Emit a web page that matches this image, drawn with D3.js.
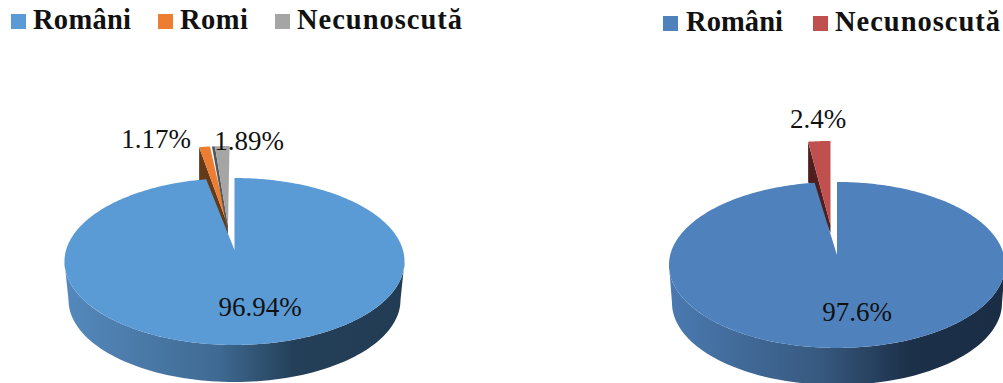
<!DOCTYPE html>
<html>
<head>
<meta charset="utf-8">
<script src="https://cdn.jsdelivr.net/npm/d3@7"></script>
<style>
html,body{margin:0;padding:0;background:#fff;overflow:hidden}
svg{display:block}
text{font-family:"Liberation Serif",serif;fill:#111}
</style>
</head>
<body>
<svg id="chart" width="1003" height="383"></svg>
<script>
// Ethnic structure of two localities, shown as tilted exploded pies
const leftCategories = ["Români", "Romi", "Necunoscută"];
const leftValues = [96.94, 1.17, 1.89];
const leftColors = ["#5B9BD5", "#ED7D31", "#A5A5A5"];
const leftDark = [null, "#653A19", "#56585A"];

const rightCategories = ["Români", "Necunoscută"];
const rightValues = [97.6, 2.4];
const rightColors = ["#4F81BD", "#C0504D"];
const rightDark = [null, "#4E1F1E"];

const svg = d3.select("#chart");
const defs = svg.append("defs");
const line = d3.line().curve(d3.curveLinear);
const rad = Math.PI / 180;

function drawPie(id, cfg, categories, values, colors, darks) {
  const g = svg.append("g");
  // Perspective projection of the unit disc onto the page
  const project = (theta, r = 1) => {
    const u = r * Math.sin(theta), v = r * Math.cos(theta);
    const w = 1 + cfg.persp * v;
    return [cfg.cx + cfg.radius * u / w, cfg.cy - cfg.foreshorten * v / w];
  };
  const rim = (a0, a1, n = 160) => d3.range(n + 1).map(i => project(a0 + (a1 - a0) * i / n));
  const arcs = d3.pie().sort(null).value(d => d)(values);

  // Side wall of the main slice, hung from the widest points of the projected rim
  const grad = defs.append("linearGradient").attr("id", id)
    .attr("gradientUnits", "userSpaceOnUse")
    .attr("x1", cfg.cx - cfg.lowRx).attr("x2", cfg.cx + cfg.lowRx)
    .attr("y1", 0).attr("y2", 0);
  cfg.wall.forEach(([o, c]) => grad.append("stop").attr("offset", o).attr("stop-color", c));

  const widest = Math.acos(-cfg.persp);
  const upper = rim(widest, 2 * Math.PI - widest);
  const lower = d3.range(0, 181, 2).map(deg => [
    cfg.cx - cfg.lowRx * Math.cos(deg * rad),
    cfg.lowCy + cfg.lowRy * Math.sin(deg * rad)
  ]);
  g.append("path").attr("d", line(upper.concat(lower)) + "Z").attr("fill", `url(#${id})`);

  // Pulled-out slices: side faces first so the main disc overlaps them
  arcs.slice(1).forEach((a, i) => {
    const k = i + 1;
    const off = cfg.offsets[k - 1];
    const tip = [cfg.cx + off.tip[0], cfg.cy + off.tip[1]];
    const edge = rim(a.startAngle, a.endAngle, 12).map(p => [p[0] + off.rim[0], p[1] + off.rim[1]]);
    const first = edge[0], last = edge[edge.length - 1];
    const outerEdge = first[0] < last[0] ? first : last;
    const face = [
      outerEdge,
      [outerEdge[0] + off.lip, outerEdge[1]],
      tip,
      [tip[0], tip[1] + cfg.tipDepth],
      [outerEdge[0], outerEdge[1] + off.rimDepth]
    ];
    g.append("path").attr("d", line(face) + "Z").attr("fill", darks[k]);
    g.append("path").attr("d", line([tip, ...edge.map(p => p[0] === outerEdge[0] ? [p[0] + off.lip, p[1]] : p)]) + "Z")
      .attr("fill", colors[k]);
  });

  // Top of the main slice
  const main = arcs[0];
  g.append("path")
    .attr("d", line([project(0, 0), ...rim(main.startAngle, main.endAngle, 360)]) + "Z")
    .attr("fill", colors[0]);

  // Value labels
  values.forEach((v, i) => {
    const lab = cfg.labels[i];
    g.append("text").attr("x", lab[0]).attr("y", lab[1])
      .attr("text-anchor", "middle").attr("font-size", cfg.labelSize)
      .text(v + "%");
  });

  // Legend
  categories.forEach((c, i) => {
    const [sx, tx, tw] = cfg.legend[i];
    g.append("rect").attr("x", sx).attr("y", cfg.legendY - 15)
      .attr("width", 15).attr("height", 15).attr("fill", colors[i]);
    g.append("text").attr("x", tx).attr("y", cfg.legendY)
      .attr("font-size", cfg.legendSize).attr("font-weight", "bold")
      .attr("textLength", tw).attr("lengthAdjust", "spacing").text(c);
  });
}

drawPie("wallLeft", {
  cx: 234.5, cy: 250, radius: 168.4, foreshorten: 81.9, persp: 0.1377,
  lowRx: 166, lowRy: 82, lowCy: 300,
  wall: [[0, "#5488BC"], [0.45, "#3F6A92"], [0.68, "#243F58"], [1, "#223C54"]],
  tipDepth: 9,
  offsets: [
    { rim: [-7, -32], tip: [-6.5, -24], lip: 0, rimDepth: 40 },
    { rim: [-5, -32], tip: [-6.5, -24], lip: 3, rimDepth: 0 }
  ],
  labels: [[260, 316], [156, 148], [249, 150]],
  labelSize: 27, legendSize: 28.5, legendY: 29,
  legend: [[11, 33, 98], [158, 180, 68], [275, 297, 165]]
}, leftCategories, leftValues, leftColors, leftDark);

drawPie("wallRight", {
  cx: 837, cy: 255, radius: 166.8, foreshorten: 81.8, persp: 0.12,
  lowRx: 165, lowRy: 82, lowCy: 303,
  wall: [[0, "#4A79B0"], [0.45, "#37597F"], [0.72, "#1C3049"], [1, "#1A2D45"]],
  tipDepth: 8,
  offsets: [{ rim: [-6.5, -41], tip: [-6.5, -30], lip: 0, rimDepth: 40 }],
  labels: [[857, 321], [818, 128]],
  labelSize: 27, legendSize: 28.5, legendY: 31,
  legend: [[663, 686, 97], [813, 835, 165]]
}, rightCategories, rightValues, rightColors, rightDark);
</script>
</body>
</html>
